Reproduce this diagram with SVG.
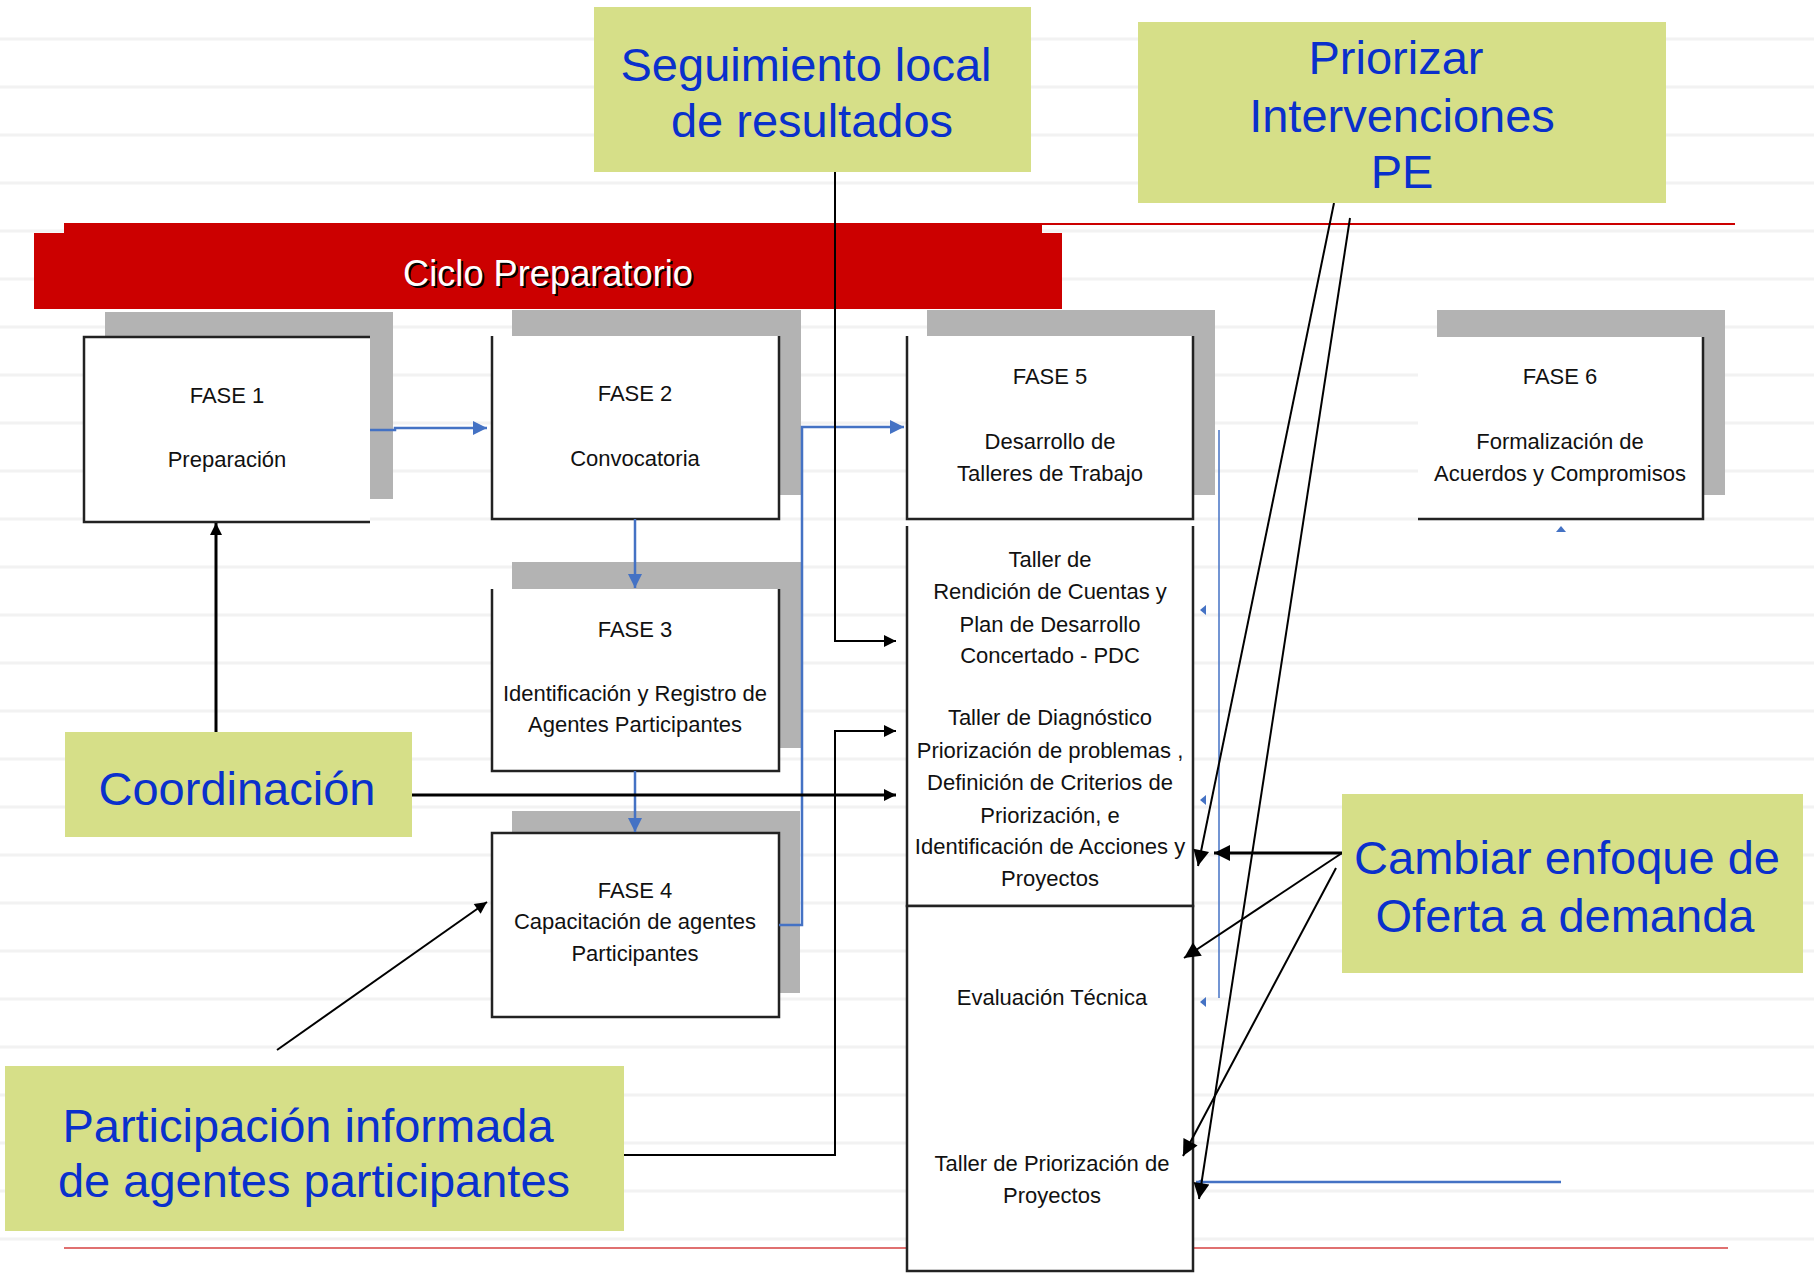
<svg xmlns="http://www.w3.org/2000/svg" width="1814" height="1274" viewBox="0 0 1814 1274">
<style>
.bg{stroke:#f2f2f2;stroke-width:3}
.sh{fill:#b3b3b3}
.bx{fill:#fff}
.bd{fill:none;stroke:#222;stroke-width:2.5}
.t{font-family:"Liberation Sans",Arial,sans-serif;font-size:22px;fill:#111;text-anchor:middle}
.lb{fill:#d6df88}
.lt{font-family:"Liberation Sans",Arial,sans-serif;font-size:47px;fill:#0a30cc;text-anchor:middle}
.blue{fill:none;stroke:#4472c4;stroke-width:2.5}
.blk{fill:none;stroke:#000;stroke-width:2}
.blk3{fill:none;stroke:#000;stroke-width:3}
</style>
<defs>
<marker id="ab" viewBox="0 0 10 10" refX="10" refY="5" markerUnits="userSpaceOnUse" markerWidth="18" markerHeight="14" orient="auto"><path d="M0,0 L10,5 L0,10 z" fill="#4472c4"/></marker>
<marker id="abs" viewBox="0 0 10 10" refX="10" refY="5" markerUnits="userSpaceOnUse" markerWidth="7" markerHeight="10" orient="auto"><path d="M0,0 L10,5 L0,10 z" fill="#4472c4"/></marker>
<marker id="ak" viewBox="0 0 10 10" refX="10" refY="5" markerUnits="userSpaceOnUse" markerWidth="16" markerHeight="12" orient="auto"><path d="M0,0 L10,5 L0,10 z" fill="#000"/></marker>
<marker id="akl" viewBox="0 0 10 10" refX="10" refY="5" markerUnits="userSpaceOnUse" markerWidth="22" markerHeight="16" orient="auto"><path d="M0,0 L10,5 L0,10 z" fill="#000"/></marker>
</defs>
<rect width="1814" height="1274" fill="#fff"/>
<g id="background">
<path class="bg" d="M0,39H1814M0,87H1814M0,135H1814M0,183H1814M0,231H1814M0,279H1814M0,327H1814M0,375H1814M0,423H1814M0,471H1814M0,519H1814M0,567H1814M0,615H1814M0,663H1814M0,711H1814M0,759H1814M0,807H1814M0,855H1814M0,903H1814M0,951H1814M0,999H1814M0,1047H1814M0,1095H1814M0,1143H1814M0,1191H1814M0,1239H1814"/>
<line x1="64" y1="1248" x2="1728" y2="1248" stroke="#e07070" stroke-width="2"/>
<line x1="1042" y1="224" x2="1735" y2="224" stroke="#cc0000" stroke-width="2"/>
</g>
<g id="ciclo">
<rect x="64" y="223" width="978" height="12" fill="#cc0000"/>
<rect x="34" y="233" width="1028" height="76" fill="#cc0000"/>
<text x="550" y="288" font-family="Liberation Sans,Arial,sans-serif" font-size="37" fill="#000" text-anchor="middle" textLength="290" lengthAdjust="spacingAndGlyphs">Ciclo Preparatorio</text>
<text x="548" y="286" font-family="Liberation Sans,Arial,sans-serif" font-size="37" fill="#fff" text-anchor="middle" textLength="290" lengthAdjust="spacingAndGlyphs">Ciclo Preparatorio</text>
</g>
<g id="fase1">
<rect class="sh" x="105" y="312" width="288" height="187"/>
<rect class="bx" x="84" y="337" width="286" height="185"/>
<path class="bd" d="M370,337H84V522H370"/>
<text class="t" x="227" y="403">FASE 1</text>
<text class="t" x="227" y="467">Preparación</text>
</g>
<g id="fase2">
<rect class="sh" x="512" y="310" width="289" height="185"/>
<rect class="bx" x="492" y="336" width="287" height="183"/>
<path class="bd" d="M492,336V519H779V336"/>
<text class="t" x="635" y="401">FASE 2</text>
<text class="t" x="635" y="466">Convocatoria</text>
</g>
<g id="fase3">
<rect class="sh" x="512" y="562" width="290" height="186"/>
<rect class="bx" x="492" y="589" width="287" height="182"/>
<path class="bd" d="M492,589V771H779V589"/>
<text class="t" x="635" y="637">FASE 3</text>
<text class="t" x="635" y="701">Identificación y Registro de</text>
<text class="t" x="635" y="732">Agentes Participantes</text>
</g>
<g id="fase4">
<rect class="sh" x="512" y="811" width="288" height="182"/>
<rect class="bx" x="492" y="833" width="287" height="184"/>
<rect class="bd" x="492" y="833" width="287" height="184"/>
<text class="t" x="635" y="898">FASE 4</text>
<text class="t" x="635" y="929">Capacitación de agentes</text>
<text class="t" x="635" y="961">Participantes</text>
</g>
<g id="fase5">
<rect class="sh" x="927" y="310" width="288" height="185"/>
<rect class="bx" x="907" y="336" width="286" height="183"/>
<path class="bd" d="M907,336V519H1193V336"/>
<text class="t" x="1050" y="384">FASE 5</text>
<text class="t" x="1050" y="449">Desarrollo de</text>
<text class="t" x="1050" y="481">Talleres de Trabajo</text>
</g>
<g id="talleres">
<rect class="bx" x="907" y="526" width="286" height="380"/>
<path class="bd" d="M907,526V906H1193V526"/>
<text class="t" x="1050" y="567">Taller de</text>
<text class="t" x="1050" y="599">Rendición de Cuentas y</text>
<text class="t" x="1050" y="632">Plan de Desarrollo</text>
<text class="t" x="1050" y="663">Concertado - PDC</text>
<text class="t" x="1050" y="725">Taller de Diagnóstico</text>
<text class="t" x="1050" y="758">Priorización de problemas ,</text>
<text class="t" x="1050" y="790">Definición de Criterios de</text>
<text class="t" x="1050" y="823">Priorización, e</text>
<text class="t" x="1050" y="854">Identificación de Acciones y</text>
<text class="t" x="1050" y="886">Proyectos</text>
</g>
<g id="evaluacion">
<rect class="bx" x="907" y="906" width="286" height="365"/>
<rect class="bd" x="907" y="906" width="286" height="365"/>
<text class="t" x="1052" y="1005">Evaluación Técnica</text>
<text class="t" x="1052" y="1171">Taller de Priorización de</text>
<text class="t" x="1052" y="1203">Proyectos</text>
</g>
<g id="fase6">
<rect class="sh" x="1437" y="310" width="288" height="185"/>
<rect class="bx" x="1418" y="337" width="285" height="182"/>
<path class="bd" d="M1703,337V519H1418"/>
<text class="t" x="1560" y="384">FASE 6</text>
<text class="t" x="1560" y="449">Formalización de</text>
<text class="t" x="1560" y="481">Acuerdos y Compromisos</text>
</g>
<g id="connectors">
<path class="blue" d="M370,430H395V428H487" marker-end="url(#ab)"/>
<path class="blue" d="M635,519V588" marker-end="url(#ab)"/>
<path class="blue" d="M635,771V832" marker-end="url(#ab)"/>
<path class="blue" d="M779,925H802V427H904" marker-end="url(#ab)"/>
<line x1="1219" y1="430" x2="1219" y2="998" stroke="#4472c4" stroke-width="1.5"/>
<path class="blue" d="M1561,1182H1196" stroke-width="2" marker-end="url(#abs)"/>
<path d="M1206,605L1200,610L1206,615z" fill="#4472c4"/>
<path d="M1206,795L1200,800L1206,805z" fill="#4472c4"/>
<path d="M1206,997L1200,1002L1206,1007z" fill="#4472c4"/>
<path d="M1556,532L1561,526L1566,532z" fill="#4472c4"/>
<path class="blk" d="M835,172V641H896" marker-end="url(#ak)"/>
<path class="blk" d="M624,1155H835V731H896" marker-end="url(#ak)"/>
<path class="blk3" d="M412,795H896" marker-end="url(#ak)"/>
<path class="blk3" d="M216,732V523" marker-end="url(#ak)"/>
<path class="blk" d="M277,1050L487,902" marker-end="url(#ak)"/>
<path class="blk" d="M1334,203L1198,866" marker-end="url(#akl)"/>
<path class="blk" d="M1350,218L1199,1199" marker-end="url(#akl)"/>
<path class="blk3" d="M1342,853H1214" marker-end="url(#akl)"/>
<path class="blk" d="M1342,853L1184,958" marker-end="url(#akl)"/>
<path class="blk" d="M1336,868L1183,1156" marker-end="url(#akl)"/>
</g>
<g id="seguimiento">
<rect class="lb" x="594" y="7" width="437" height="165"/>
<text class="lt" x="806" y="81">Seguimiento local</text>
<text class="lt" x="812" y="137">de resultados</text>
</g>
<g id="priorizar">
<rect class="lb" x="1138" y="22" width="528" height="181"/>
<text class="lt" x="1396" y="74">Priorizar</text>
<text class="lt" x="1402" y="132">Intervenciones</text>
<text class="lt" x="1402" y="188">PE</text>
</g>
<g id="coordinacion">
<rect class="lb" x="65" y="732" width="347" height="105"/>
<text class="lt" x="237" y="805">Coordinación</text>
</g>
<g id="participacion">
<rect class="lb" x="5" y="1066" width="619" height="165"/>
<text class="lt" x="308" y="1142">Participación informada</text>
<text class="lt" x="314" y="1197">de agentes participantes</text>
</g>
<g id="cambiar">
<rect class="lb" x="1342" y="794" width="461" height="179"/>
<text class="lt" x="1567" y="874">Cambiar enfoque de</text>
<text class="lt" x="1565" y="932">Oferta a demanda</text>
</g>
</svg>
